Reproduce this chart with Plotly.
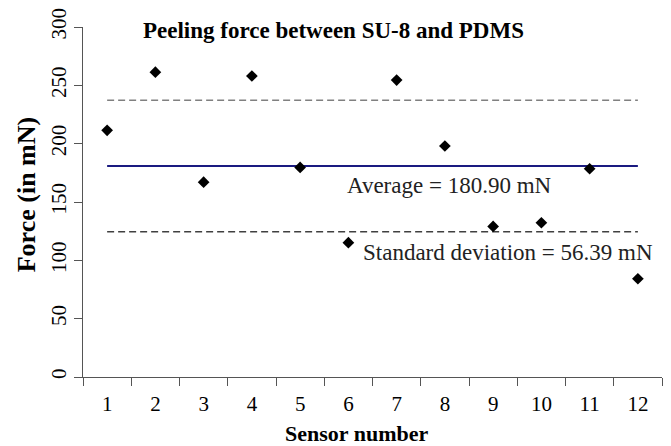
import plotly.graph_objects as go

sensors = [str(i) for i in range(1, 13)]
force = [211.4, 261.3, 167.0, 258.0, 179.6, 115.1, 254.5, 198.0, 129.1, 132.2, 178.5, 84.2]
average = 180.90
std_dev = 56.39
y_ticks = [0, 50, 100, 150, 200, 250, 300]

FONT = "Liberation Serif, Times New Roman, serif"

fig = go.Figure()
fig.add_trace(go.Scatter(x=sensors, y=[average + std_dev] * len(sensors), mode="lines",
                         line=dict(color="#808080", width=1.5, dash="7px,4px"), hoverinfo="skip"))
fig.add_trace(go.Scatter(x=sensors, y=[average - std_dev] * len(sensors), mode="lines",
                         line=dict(color="#404040", width=1.5, dash="7px,4px"), hoverinfo="skip"))
fig.add_trace(go.Scatter(x=sensors, y=[average] * len(sensors), mode="lines",
                         line=dict(color="#1a1a80", width=2), hoverinfo="skip"))
fig.add_trace(go.Scatter(x=sensors, y=force, mode="markers",
                         marker=dict(symbol="diamond", color="black", size=9, line=dict(width=0))))

fig.update_layout(
    width=671, height=446,
    margin=dict(l=83, r=9, t=27, b=69, pad=0, autoexpand=False),
    paper_bgcolor="white", plot_bgcolor="white",
    showlegend=False,
    font=dict(family=FONT, color="black", size=20),
    xaxis=dict(type="category", range=[-0.5, 11.5], showgrid=False, zeroline=False,
               showline=True, linecolor="#555", linewidth=1.2, automargin=False,
               ticks="outside", tickson="boundaries", ticklen=8, tickcolor="#555",
               tickfont=dict(size=21, family=FONT), ticklabelstandoff=8),
    yaxis=dict(range=[0, 300], tickvals=y_ticks, showgrid=False, zeroline=False,
               showline=True, linecolor="#555", linewidth=1.2, automargin=False,
               ticks="outside", ticklen=8, tickcolor="#555", tickangle=-90,
               tickfont=dict(size=21, family=FONT), ticklabelstandoff=0),
    annotations=[
        dict(text="<b>Peeling force between SU-8 and PDMS</b>", xref="paper", yref="paper",
             x=0.432, y=0.99, xanchor="center", yanchor="middle", showarrow=False,
             font=dict(size=23, family=FONT)),
        dict(text="<b>Sensor number</b>", xref="paper", yref="paper",
             x=0.472, y=-0.16, xanchor="center", yanchor="middle", showarrow=False,
             font=dict(size=22, family=FONT)),
        dict(text="<b>Force (in mN)</b>", xref="paper", yref="paper", textangle=-90,
             x=-0.098, y=0.52, xanchor="center", yanchor="middle", showarrow=False,
             font=dict(size=26, family=FONT)),
        dict(text="Average = 180.90 mN", xref="x", yref="y",
             x=4.93, y=164, xanchor="left", yanchor="middle", showarrow=False,
             font=dict(size=23, family=FONT, color="#222")),
        dict(text="Standard deviation = 56.39 mN", xref="x", yref="y",
             x=5.27, y=107, xanchor="left", yanchor="middle", showarrow=False,
             font=dict(size=23, family=FONT, color="#222")),
    ],
)

fig.write_html("out.html", config={"displayModeBar": False},
               post_script="document.body.style.margin='0';document.body.style.padding='0';")
